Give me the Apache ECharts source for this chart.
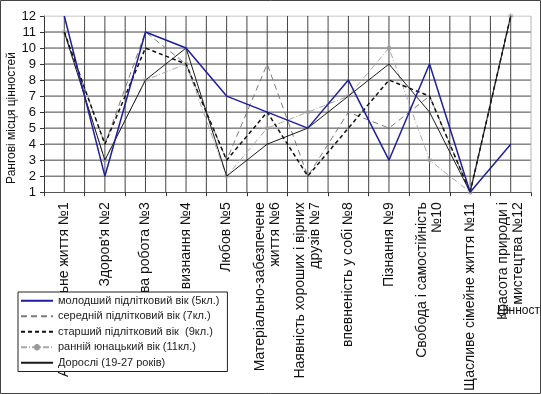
<!DOCTYPE html>
<html><head><meta charset="utf-8">
<script src="https://cdn.jsdelivr.net/npm/echarts@6/dist/echarts.min.js"></script>
<style>html,body{margin:0;padding:0;background:#fff}#c{width:541px;height:394px}</style>
</head><body><div id="c"></div>
<script>
const categories = ['Активне діяльне життя №1', "Здоров'я №2", 'Цікава робота №3', 'Суспільне визнання №4', 'Любов №5', 'Матеріально-забезпечене\nжиття №6', 'Наявність хороших і вірних\nдрузів №7', 'впевненість у собі №8', 'Пізнання №9', 'Свобода і самостійність\n№10', 'Щасливе сімейне життя №11', 'Красота природи і\nмистецтва №12'];
const seriesNames = ['молодший підлітковий вік (5кл.)', 'середній підлітковий вік (7кл.)', 'старший підлітковий вік  (9кл.)', 'ранній юнацький вік (11кл.)', 'Дорослі (19-27 років)'];
const s5kl = [12, 2, 11, 10, 7, 6, 5, 8, 3, 9, 1, 4];
const s7kl = [11, 4, 11, 9, 3, 9, 2, 6, 5, 7, 1, 12];
const s9kl = [11, 4, 10, 9, 3, 6, 2, 5, 8, 7, 1, 12];
const s11kl = [11, 3, 8, 9, 2, 5, 6, 7, 10, 3, 1, 12];
const adults = [11, 3, 8, 10, 2, 4, 5, 7, 9, 6, 1, 12];
const yTicks = [1, 12, 1]; // min, max, step
const yName = 'Рангові місця цінностей';
const xName = 'Цінності';

const FONT = '"Liberation Sans", Arial, sans-serif';
// Slots: gridline positions between and on categories (category i sits at slot 2i+1)
const slotCats = [];
for (let i = 0; i <= categories.length * 2; i++) slotCats.push(i % 2 === 1 ? categories[(i - 1) / 2] : 'g' + i);
const toSlots = arr => slotCats.map((c, i) => (i % 2 === 1 ? arr[(i - 1) / 2] : null));
const lastSlot = slotCats.length - 1;

// gridlines drawn through the axes' own scales
const gridSeries = [];
for (let v = yTicks[0] + yTicks[2]; v <= yTicks[1]; v += yTicks[2]) {
  gridSeries.push({type: 'line', data: [[0, v], [lastSlot, v]], symbol: 'none', silent: true, z: 3,
    legendHoverLink: false, lineStyle: {color: v === yTicks[1] ? '#b4b4b4' : '#454545', width: 1}});
}
for (let i = 1; i <= lastSlot; i++) {
  gridSeries.push({type: 'line', data: [[i, yTicks[0]], [i, yTicks[1]]], symbol: 'none', silent: true, z: 3,
    legendHoverLink: false, lineStyle: {color: i === lastSlot ? '#b4b4b4' : '#454545', width: 1}});
}

const chart = echarts.init(document.getElementById('c'));
chart.setOption({
  animation: false,
  grid: {left: 44, right: 10, top: 16, bottom: 192},
  xAxis: {
    type: 'category', data: slotCats, boundaryGap: false,
    axisLine: {show: true, lineStyle: {color: '#555', width: 1}},
    axisTick: {show: true, length: 4, interval: (idx) => idx % 2 === 0, lineStyle: {color: '#333'}},
    axisLabel: {rotate: 90, interval: (idx) => idx % 2 === 1, margin: 10, fontSize: 14, color: '#111', fontFamily: FONT, lineHeight: 15},
    splitLine: {show: false}
  },
  yAxis: {
    type: 'value', min: yTicks[0], max: yTicks[1], interval: yTicks[2],
    axisLine: {show: true, lineStyle: {color: '#333'}},
    axisTick: {show: true, length: 4, lineStyle: {color: '#333'}},
    axisLabel: {fontSize: 13, color: '#111', margin: 8, fontFamily: FONT},
    splitLine: {show: false}
  },
  legend: {
    orient: 'vertical', left: 18, top: 292, width: 202,
    backgroundColor: '#fff', borderColor: '#222', borderWidth: 1,
    padding: [2, 8, 2, 2], itemWidth: 32, itemHeight: 8, itemGap: 2,
    textStyle: {fontSize: 11, color: '#222', fontFamily: FONT, lineHeight: 13.5},
    data: [
      {name: seriesNames[0], itemStyle: {opacity: 0}},
      {name: seriesNames[1], itemStyle: {opacity: 0}},
      {name: seriesNames[2], itemStyle: {opacity: 0}},
      {name: seriesNames[3]},
      {name: seriesNames[4], itemStyle: {opacity: 0}}
    ]
  },
  graphic: [
    {type: 'rect', shape: {x: 0.5, y: 0.5, width: 540, height: 393}, style: {fill: 'none', stroke: '#444', lineWidth: 1}, z: 100},
    {type: 'text', left: 497, top: 305, style: {text: xName, fontSize: 12, fill: '#111', fontFamily: FONT}, z: 100},
    {type: 'text', x: 12, y: 118, rotation: Math.PI / 2,
     style: {text: yName, fontSize: 12, fill: '#111', fontFamily: FONT, align: 'center', verticalAlign: 'middle'}, z: 100}
  ],
  series: gridSeries.concat([
    {name: seriesNames[0], type: 'line', data: toSlots(s5kl), connectNulls: true, symbol: 'none', z: 9,
     lineStyle: {color: '#1e1ea0', width: 1.5}, itemStyle: {color: '#1e1ea0'}},
    {name: seriesNames[1], type: 'line', data: toSlots(s7kl), connectNulls: true, symbol: 'none', z: 5,
     lineStyle: {color: '#7a7a7a', width: 1, type: [6, 4]}, itemStyle: {color: '#7a7a7a'}},
    {name: seriesNames[2], type: 'line', data: toSlots(s9kl), connectNulls: true, symbol: 'none', z: 7,
     lineStyle: {color: '#111', width: 1.5, type: [4, 3]}, itemStyle: {color: '#111'}},
    {name: seriesNames[3], type: 'line', data: toSlots(s11kl), connectNulls: true, z: 6,
     symbol: 'path://M0,-5L0,5M-5,0L5,0M-3.5,-3.5L3.5,3.5M-3.5,3.5L3.5,-3.5', symbolSize: 5,
     lineStyle: {color: '#a8a8a8', width: 1, type: [6, 2, 1, 2]},
     itemStyle: {color: '#999', borderColor: '#999', borderWidth: 1}},
    {name: seriesNames[4], type: 'line', data: toSlots(adults), connectNulls: true, symbol: 'none', z: 8,
     lineStyle: {color: '#1a1a1a', width: 1}, itemStyle: {color: '#1a1a1a'}}
  ])
});
</script>
</body></html>
